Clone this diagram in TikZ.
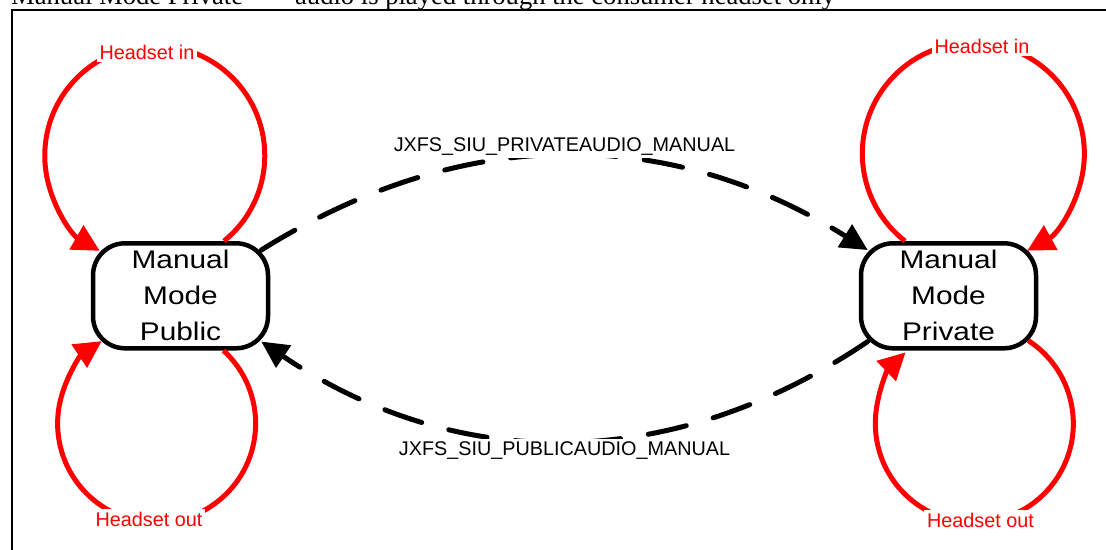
\documentclass[tikz,border=0pt]{standalone}
\usepackage{fontspec}
\setmainfont{Liberation Serif}
\setsansfont{Liberation Sans}
\newfontfamily\wideSans[FakeStretch=1.17]{Liberation Sans}
\usetikzlibrary{arrows.meta}

\begin{document}
\begin{tikzpicture}[x=1pt,y=1pt,
    state/.style={draw,line width=4.5pt,rounded corners=32pt,minimum width=175pt,
      minimum height=105pt,inner sep=0pt,align=center,
      font=\wideSans\fontsize{25.5}{36}\selectfont},
    headset/.style={red,line width=5pt,-{Triangle[length=27pt,width=27pt]}},
    switch/.style={line width=5pt,line cap=round,dash pattern=on 39pt off 28pt,
      -{Triangle[length=27pt,width=26pt]}},
    lbl/.style={fill=white,inner sep=2pt,font=\sffamily\fontsize{19.8}{22}\selectfont}]

    % Page area and frame
    \useasboundingbox (0,0) rectangle (1106,549);
    \draw[line width=2pt] (12,-20) rectangle (1130,539);

    % Caption above the frame
    \node[anchor=base west,inner sep=0pt,font=\fontsize{26.6}{30}\selectfont] (caption) at (11,544.5)
      {Manual Mode Private\hspace{52pt}audio is played through the consumer headset only};

    % States
    \node[state] (pub) at (180.5,253.2) {Manual\\Mode\\Public};
    \node[state] (priv) at (948.5,253.2) {Manual\\Mode\\Private};

    % Headset loops
    \draw[headset] ([xshift=43.5pt]pub.north) arc[start angle=-51,end angle=240,radius=110pt];
    \draw[headset] ([xshift=-43.5pt]priv.north) arc[start angle=232,end angle=-61,radius=111pt];
    \draw[headset] ([xshift=43pt]pub.south) arc[start angle=47.5,end angle=-236.3,radius=99pt];
    \draw[headset] ([shift={(-10pt,10pt)}]priv.south east) arc[start angle=57,end angle=-226,radius=99pt];

    % Loop labels
    \node[lbl,text=red,inner sep=3pt] (pubin) at (147,497) {Headset in};
    \node[lbl,text=red,inner sep=3pt] (privin) at (982,503) {Headset in};
    \node[lbl,text=red,inner sep=3pt] (pubout) at (149,29.5) {Headset out};
    \node[lbl,text=red,inner sep=3pt] (privout) at (980.5,29) {Headset out};

    % Switching between the states
    \draw[switch] ([shift={(-9pt,-9pt)}]pub.north east) to[bend left=32]
      node[lbl,yshift=9pt] (toprivate) {JXFS\_SIU\_PRIVATEAUDIO\_MANUAL}
      ([shift={(9pt,-9pt)}]priv.north west);
    \draw[switch] ([shift={(9pt,9pt)}]priv.south west) to[bend left=34]
      node[lbl,yshift=-9.4pt] (topublic) {JXFS\_SIU\_PUBLICAUDIO\_MANUAL}
      ([shift={(-9pt,9pt)}]pub.south east);
\end{tikzpicture}
\end{document}
